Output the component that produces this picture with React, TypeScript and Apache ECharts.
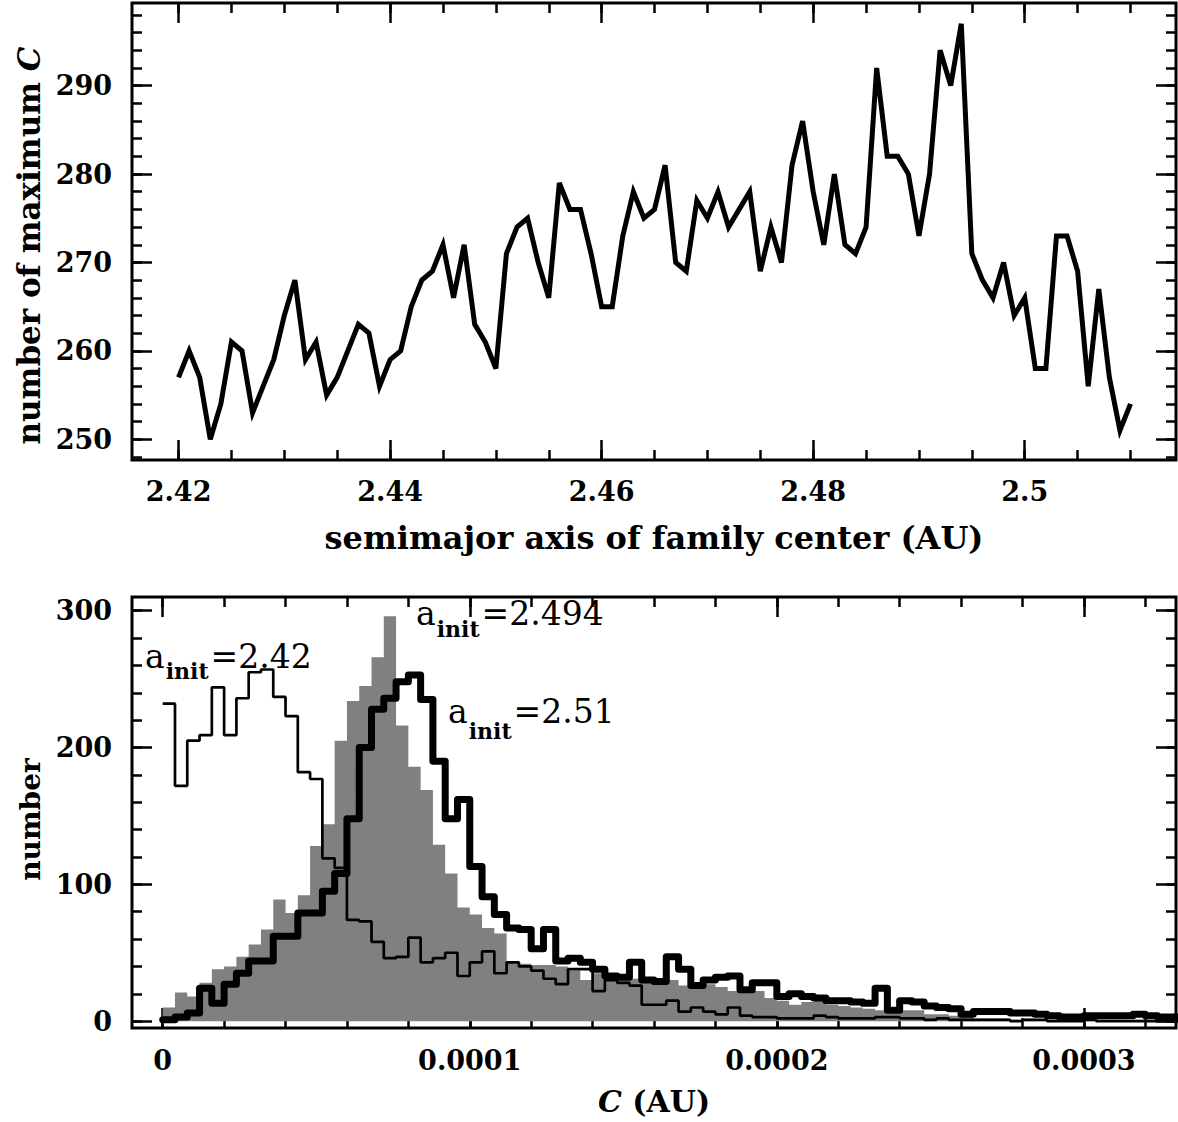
import React, { useEffect, useRef } from "react";
import * as echarts from "echarts";

// ---------- top panel data ----------
const aStart = 2.42;
const aStep = 0.001;
const maxCCount = [
  257, 260, 257, 250, 254, 261, 260, 253, 256, 259,
  264, 268, 259, 261, 255, 257, 260, 263, 262, 256,
  259, 260, 265, 268, 269, 272, 266, 272, 263, 261,
  258, 271, 274, 275, 270, 266, 279, 276, 276, 271,
  265, 265, 273, 278, 275, 276, 281, 270, 269, 277,
  275, 278, 274, 276, 278, 269, 274, 270, 281, 286,
  278, 272, 280, 272, 271, 274, 292, 282, 282, 280,
  273, 280, 294, 290, 297, 271, 268, 266, 270, 264,
  266, 258, 258, 273, 273, 269, 256, 267, 257, 251,
  254,
];

// ---------- bottom panel data (histograms, bin width 4e-6 AU) ----------
const binWidth = 0.000004;
const histA242 = [
  232, 172, 205, 209, 244, 209, 236, 255, 257, 237,
  223, 182, 177, 119, 112, 74, 73, 58, 46, 47,
  61, 43, 46, 50, 33, 43, 51, 35, 43, 40,
  37, 31, 27, 38, 38, 22, 30, 28, 26, 12,
  12, 15, 7, 10, 7, 5, 10, 4, 3, 3,
  2, 2, 2, 4, 3, 2, 2, 2, 3, 3,
  2, 2, 1, 2, 1, 1, 1, 1, 1, 0,
  1, 1, 0, 0, 0, 1, 0, 0, 0, 0,
  0, 0, 0,
];
const histA2494 = [
  10, 21, 18, 28, 38, 40, 47, 56, 67, 89,
  79, 92, 128, 144, 205, 234, 245, 266, 296, 216,
  186, 169, 129, 108, 83, 78, 68, 64, 43, 42,
  41, 41, 40, 37, 30, 35, 33, 32, 31, 30,
  30, 30, 26, 27, 27, 25, 22, 21, 22, 17,
  15, 12, 14, 15, 12, 11, 10, 9, 8, 7,
  8, 8, 5, 5, 4, 3, 2, 2, 2, 1,
  2, 1, 1, 1, 1, 1, 1, 1, 0, 1,
  0, 1, 0,
];
const histA251 = [
  1, 3, 6, 24, 13, 27, 35, 44, 44, 62,
  62, 79, 79, 95, 108, 148, 200, 228, 236, 248,
  253, 235, 190, 148, 162, 113, 91, 78, 68, 67,
  53, 67, 44, 46, 43, 38, 33, 32, 43, 30,
  29, 47, 38, 26, 30, 32, 33, 23, 28, 28,
  18, 20, 18, 17, 15, 15, 14, 13, 24, 8,
  15, 14, 11, 10, 9, 5, 7, 7, 7, 6,
  6, 5, 4, 3, 3, 4, 4, 4, 4, 5,
  4, 3, 3,
];

// ---------- ticks ----------
const topXMajor = [2.42, 2.44, 2.46, 2.48, 2.5];
const topXLabels = ["2.42", "2.44", "2.46", "2.48", "2.5"];
const topXMinor = [2.42, 2.425, 2.43, 2.435, 2.44, 2.445, 2.45, 2.455, 2.46, 2.465, 2.47, 2.475, 2.48, 2.485, 2.49, 2.495, 2.5, 2.505, 2.51];
const topYMajor = [250, 260, 270, 280, 290];
const topYLabels = ["250", "260", "270", "280", "290"];
const topYMinor = [248, 250, 252, 254, 256, 258, 260, 262, 264, 266, 268, 270, 272, 274, 276, 278, 280, 282, 284, 286, 288, 290, 292, 294, 296, 298];
const botXMajor = [0, 0.0001, 0.0002, 0.0003];
const botXLabels = ["0", "0.0001", "0.0002", "0.0003"];
const botXMinor = [0, 0.00002, 0.00004, 0.00006, 0.00008, 0.0001, 0.00012, 0.00014, 0.00016, 0.00018, 0.0002, 0.00022, 0.00024, 0.00026, 0.00028, 0.0003, 0.00032];
const botYMajor = [0, 100, 200, 300];
const botYLabels = ["0", "100", "200", "300"];
const botYMinor = [0, 20, 40, 60, 80, 100, 120, 140, 160, 180, 200, 220, 240, 260, 280, 300];

// histogram annotations: [prefix, subscript, suffix]
const annoTexts = [
  ["a", "init", "=2.42"],
  ["a", "init", "=2.494"],
  ["a", "init", "=2.51"],
];

const FONT = '"DejaVu Serif", serif';
const TICK_FONT = 27;

function labelFor(values: number[], labels: string[]) {
  return (v: number) => {
    let best = 0;
    for (let i = 1; i < values.length; i++) {
      if (Math.abs(values[i] - v) < Math.abs(values[best] - v)) best = i;
    }
    return labels[best];
  };
}

function richFor(size: number) {
  return {
    n: { color: "#000", fontFamily: FONT, fontSize: size, fontWeight: "bold" },
    i: { color: "#000", fontFamily: FONT, fontSize: size, fontWeight: "bold", fontStyle: "italic" },
  };
}

function axisGroup(
  dim: "x" | "y",
  gridIndex: number,
  min: number,
  max: number,
  major: number[],
  minor: number[],
  labels: string[],
  labelMargin: number,
  name: string,
  nameGap: number,
  nameSize: number,
  namePadding: number[]
) {
  const posA = dim === "x" ? "bottom" : "left";
  const posB = dim === "x" ? "top" : "right";
  const base = {
    gridIndex,
    type: "value",
    min,
    max,
    axisLine: { show: false, onZero: false },
    splitLine: { show: false },
    minorTick: { show: false },
  };
  const tickStyle = { color: "#000", width: 2.5 };
  const mk = (pos: string, vals: number[], len: number, withLabel: boolean) => ({
    ...base,
    position: pos,
    axisTick: { show: true, inside: true, length: len, customValues: vals, lineStyle: tickStyle },
    axisLabel: withLabel
      ? {
          show: true,
          customValues: major,
          formatter: labelFor(major, labels),
          margin: labelMargin,
          color: "#000",
          fontFamily: FONT,
          fontSize: TICK_FONT,
          fontWeight: "bold",
        }
      : { show: false },
  });
  const first: any = mk(posA, major, 20, true);
  first.name = name;
  first.nameLocation = "middle";
  first.nameGap = nameGap;
  first.nameRotate = dim === "y" ? 90 : 0;
  first.nameTextStyle = {
    color: "#000",
    fontFamily: FONT,
    fontSize: nameSize,
    fontWeight: "bold",
    padding: namePadding,
    rich: richFor(nameSize),
  };
  return [first, mk(posA, minor, 10, false), mk(posB, major, 20, false), mk(posB, minor, 10, false)];
}

function histPoints(values: number[]) {
  const pts: number[][] = values.map((v, k) => [k * binWidth, v]);
  pts.push([values.length * binWidth, values[values.length - 1]]);
  return pts;
}

const MAIN_FONT = '33px "DejaVu Serif"';
const SUB_FONT = 'bold 22px "DejaVu Serif"';

function measure(text: string, font: string) {
  const c = document.createElement("canvas").getContext("2d");
  if (!c) return text.length * 18;
  c.font = font;
  return c.measureText(text).width;
}

// one annotation: left x, baseline of the main text, baseline of the subscript
function anno(parts: string[], x: number, base: number, subBase: number) {
  const wA = measure(parts[0], MAIN_FONT);
  const wS = measure(parts[1], SUB_FONT);
  const common = { fill: "#000", fontFamily: FONT, verticalAlign: "bottom" };
  return {
    type: "group",
    z: 10,
    children: [
      { type: "text", x, y: base + 8, style: { ...common, text: parts[0], fontSize: 33 } },
      { type: "text", x: x + wA + 1, y: subBase + 5, style: { ...common, text: parts[1], fontSize: 22, fontWeight: "bold" } },
      { type: "text", x: x + wA + wS + 3, y: base + 8, style: { ...common, text: parts[2], fontSize: 33 } },
    ],
  };
}

export default function App() {
  const ref = useRef<HTMLDivElement>(null);
  useEffect(() => {
    if (!ref.current) return;
    const chart = echarts.init(ref.current, undefined, { renderer: "svg" });
    const topPts = maxCCount.map((v, i) => [aStart + i * aStep, v]);

    const xAxes = [
      ...axisGroup("x", 0, 2.4156, 2.5143, topXMajor, topXMinor, topXLabels, 18,
        "semimajor axis of family center (AU)", 62, 32, [0, 0, 0, 0]),
      ...axisGroup("x", 1, -0.00001, 0.00033, botXMajor, botXMinor, botXLabels, 19,
        "{i|C} {n|(AU)}", 58, 30, [0, 0, 0, 0]),
    ];
    const yAxes = [
      ...axisGroup("y", 0, 247.65, 299.35, topYMajor, topYMinor, topYLabels, 20,
        "{n|number of maximum }{i|C}", 86, 31, [0, 28, 0, 0]),
      ...axisGroup("y", 1, -5, 310, botYMajor, botYMinor, botYLabels, 20,
        "{n|number}", 86, 28, [0, 14, 0, 0]),
    ];

    chart.setOption({
      animation: false,
      backgroundColor: "#fff",
      grid: [
        { left: 132, top: 3, width: 1044, height: 457, show: true, borderColor: "#000", borderWidth: 3, backgroundColor: "transparent" },
        { left: 132, top: 597, width: 1044, height: 431, show: true, borderColor: "#000", borderWidth: 3, backgroundColor: "transparent" },
      ],
      xAxis: xAxes,
      yAxis: yAxes,
      series: [
        {
          name: "max C",
          type: "line",
          xAxisIndex: 0,
          yAxisIndex: 0,
          data: topPts,
          showSymbol: false,
          lineStyle: { color: "#000", width: 5, join: "miter" },
        },
        {
          name: "a_init=2.494",
          type: "line",
          xAxisIndex: 4,
          yAxisIndex: 4,
          step: "end",
          data: histPoints(histA2494),
          showSymbol: false,
          lineStyle: { width: 0, color: "#808080" },
          areaStyle: { color: "#808080", opacity: 1 },
          z: 2,
        },
        {
          name: "a_init=2.42",
          type: "line",
          xAxisIndex: 4,
          yAxisIndex: 4,
          step: "end",
          data: histPoints(histA242),
          showSymbol: false,
          lineStyle: { width: 2.7, color: "#000" },
          z: 3,
        },
        {
          name: "a_init=2.51",
          type: "line",
          xAxisIndex: 4,
          yAxisIndex: 4,
          step: "end",
          data: histPoints(histA251),
          showSymbol: false,
          lineStyle: { width: 7, color: "#000", join: "round", cap: "round" },
          z: 4,
        },
      ],
      graphic: [
        anno(annoTexts[0], 145, 665, 677),
        anno(annoTexts[1], 416, 622, 635),
        anno(annoTexts[2], 448, 720, 737),
      ],
    });
    return () => chart.dispose();
  }, []);
  return (
    <div
      ref={ref}
      style={{ position: "fixed", left: 0, top: 0, width: 1178, height: 1122, background: "#fff" }}
    />
  );
}
